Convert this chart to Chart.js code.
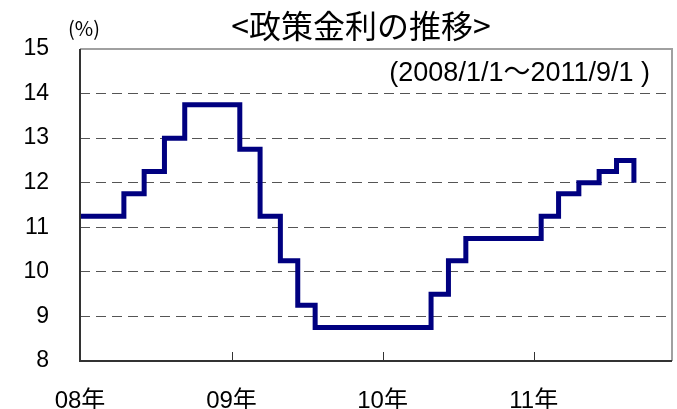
<!DOCTYPE html>
<html>
<head>
<meta charset="utf-8">
<script src="https://cdn.jsdelivr.net/npm/chart.js@4"></script>
<style>
  html, body { margin: 0; padding: 0; background: #fff; }
  #wrap { width: 677px; height: 409px; }
</style>
</head>
<body>
<div id="wrap"><canvas id="rateChart"></canvas></div>
<script>
// 政策金利（Selic）の変更日と水準
const rateDates = [
    '2008-01-01', '2008-04-16', '2008-06-04', '2008-07-23', '2008-09-10',
    '2009-01-21', '2009-03-11', '2009-04-29', '2009-06-10', '2009-07-22',
    '2010-04-28', '2010-06-09', '2010-07-21',
    '2011-01-19', '2011-03-02', '2011-04-20', '2011-06-08', '2011-07-20', '2011-08-31'
];
const rateValues = [
    11.25, 11.75, 12.25, 13.00, 13.75,
    12.75, 11.25, 10.25, 9.25, 8.75,
    9.50, 10.25, 10.75,
    11.25, 11.75, 12.00, 12.25, 12.50, 12.00
];

// 軸の目盛
const yearTickDates = ['2008-01-01', '2009-01-01', '2010-01-01', '2011-01-01'];
const yearLabels = ['08年', '09年', '10年', '11年'];
const axisEndDate = '2011-12-01';
const yMin = 8;
const yMax = 15;

const titleText = '<政策金利の推移>';
const unitText = '(%)';
const periodText = '(2008/1/1～2011/9/1 )';

// 2008/1/1 からの日数
const baseTime = Date.UTC(2008, 0, 1);
function toDays(s) {
    const p = s.split('-').map(Number);
    return (Date.UTC(p[0], p[1] - 1, p[2]) - baseTime) / 86400000;
}

const points = rateDates.map((d, i) => ({ x: toDays(d), y: rateValues[i] }));
const yearTickValues = yearTickDates.map(toDays);

const numFont = "'Liberation Sans', 'Noto Sans CJK JP', sans-serif";
const cjkFont = "'Noto Sans CJK JP', 'Liberation Sans', sans-serif";

// 枠線・目盛線・テキスト
const framePlugin = {
    id: 'frame',
    afterDraw(chart) {
        const ctx = chart.ctx;
        const a = chart.chartArea;
        const x = chart.scales.x;
        ctx.save();

        // 上と右の枠（灰色）
        ctx.strokeStyle = '#a0a0a0';
        ctx.lineWidth = 2;
        ctx.beginPath();
        ctx.moveTo(a.left, a.top);
        ctx.lineTo(a.right, a.top);
        ctx.lineTo(a.right, a.bottom);
        ctx.stroke();

        // 左と下の軸
        ctx.strokeStyle = '#333';
        ctx.lineWidth = 2;
        ctx.beginPath();
        ctx.moveTo(a.left, a.top);
        ctx.lineTo(a.left, a.bottom);
        ctx.lineTo(a.right, a.bottom);
        ctx.stroke();

        // 年の目盛（内向き）
        ctx.lineWidth = 1;
        yearTickValues.forEach(v => {
            const px = Math.round(x.getPixelForValue(v)) + 0.5;
            ctx.beginPath();
            ctx.moveTo(px, a.bottom);
            ctx.lineTo(px, a.bottom - 9);
            ctx.stroke();
        });

        ctx.fillStyle = '#000';
        ctx.textBaseline = 'middle';

        ctx.textAlign = 'center';
        ctx.font = '32px ' + cjkFont;
        ctx.fillText(titleText, 361, 26);

        ctx.font = '20px ' + cjkFont;
        ctx.fillText(unitText, 84, 28);

        ctx.textAlign = 'right';
        ctx.font = '27px ' + numFont;
        ctx.fillText(periodText, 650, 74);

        ctx.restore();
    }
};

const ctxRate = document.getElementById('rateChart').getContext('2d');
const rateChart = new Chart(ctxRate, {
    type: 'line',
    data: {
        datasets: [{
            label: '政策金利',
            data: points,
            borderColor: '#000080',
            borderWidth: 5,
            borderJoinStyle: 'miter',
            borderCapStyle: 'butt',
            pointRadius: 0,
            stepped: true,
            fill: false
        }]
    },
    options: {
        responsive: true,
        maintainAspectRatio: false,
        animation: false,
        layout: {
            padding: { top: 49, right: 5, left: 0, bottom: 0 }
        },
        plugins: {
            legend: { display: false },
            title: { display: false },
            tooltip: { enabled: false }
        },
        scales: {
            x: {
                type: 'linear',
                min: 0,
                max: toDays(axisEndDate),
                afterBuildTicks(scale) {
                    scale.ticks = yearTickValues.map(v => ({ value: v }));
                },
                afterFit(scale) {
                    scale.height = 48;
                },
                ticks: {
                    autoSkip: false,
                    maxRotation: 0,
                    padding: 26,
                    color: '#000',
                    font: { family: numFont, size: 24 },
                    callback: (v) => {
                        const i = yearTickValues.indexOf(v);
                        return i >= 0 ? yearLabels[i] : '';
                    }
                },
                grid: { display: false, drawTicks: false },
                border: { display: false }
            },
            y: {
                min: yMin,
                max: yMax,
                afterFit(scale) {
                    scale.width = 80;
                },
                ticks: {
                    stepSize: 1,
                    padding: 31,
                    color: '#000',
                    font: { family: numFont, size: 23 }
                },
                grid: {
                    drawTicks: false,
                    lineWidth: 1,
                    color: (c) => (c.tick && (c.tick.value === yMin || c.tick.value === yMax)) ? 'rgba(0,0,0,0)' : '#555'
                },
                border: { display: false, dash: [10, 6] }
            }
        }
    },
    plugins: [framePlugin]
});
</script>
</body>
</html>
